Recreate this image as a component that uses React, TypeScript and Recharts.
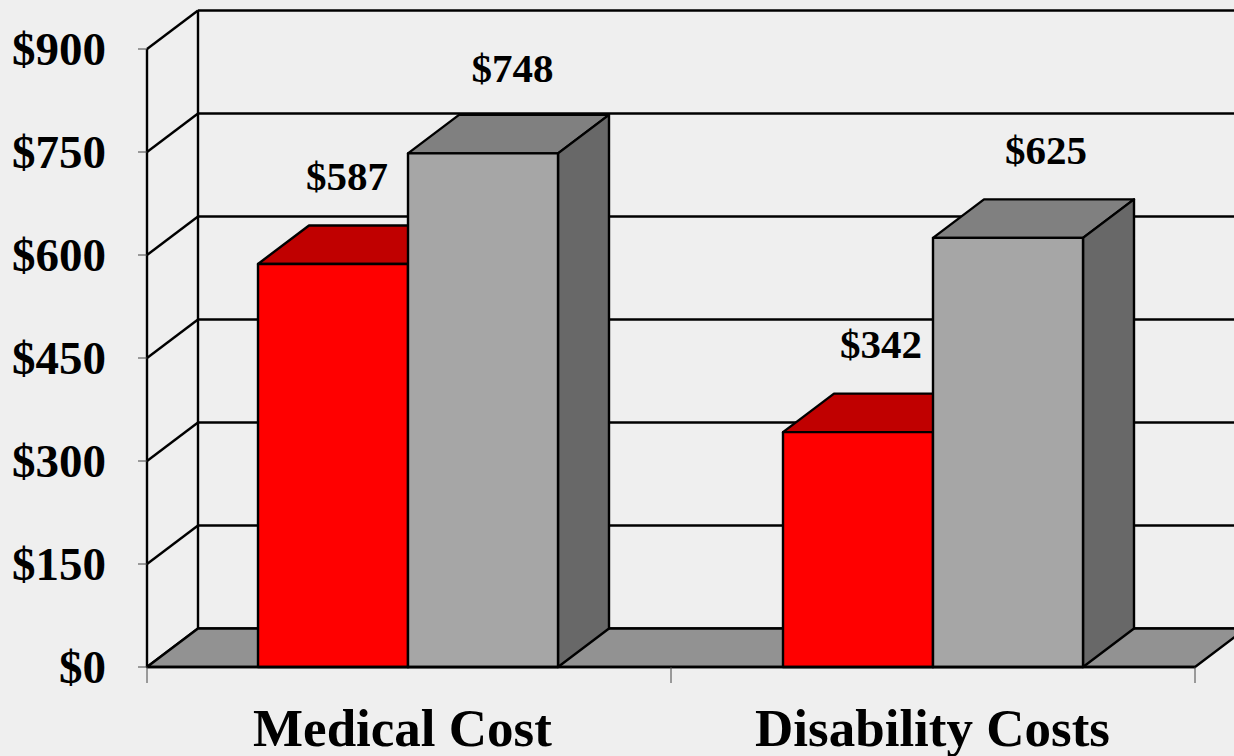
import { BarChart, Bar, XAxis, YAxis, CartesianGrid, ReferenceArea, LabelList } from 'recharts';

const categories = ['Medical Cost', 'Disability Costs'];
const redValues = [587, 342];
const greyValues = [748, 625];
const yTicks = [0, 150, 300, 450, 600, 750, 900];

const rows = categories.map((name, i) => ({ name, red: redValues[i], grey: greyValues[i] }));

// the 3D look: how far the back wall sits from the front plane
const DX = 51;
const DY = -38.5;
const LINE = 2.4;
const SERIF = '"Liberation Serif", serif';
const BG = '#EFEFEF';

function GridLine({ x1, y1, x2 }: any) {
  return (
    <g>
      <line x1={x1} y1={y1} x2={x1 + DX} y2={y1 + DY} stroke="#000" strokeWidth={LINE} />
      <line x1={x1 + DX} y1={y1 + DY} x2={x2 + DX} y2={y1 + DY} stroke="#000" strokeWidth={LINE} />
    </g>
  );
}

function WallAndFloor({ x, y, width, height }: any) {
  const bottom = y + height;
  const right = x + width;
  const pts = `${x},${bottom} ${x + DX},${bottom + DY} ${right + DX},${bottom + DY} ${right},${bottom}`;
  return (
    <g>
      <polygon points={pts} fill="#929292" stroke="#000" strokeWidth={LINE} strokeLinejoin="round" />
      <line x1={x + DX} y1={y + DY} x2={x + DX} y2={bottom + DY} stroke="#000" strokeWidth={LINE} />
    </g>
  );
}

function box(front: string, top: string, side: string) {
  return function Box({ x, y, width, height, index }: any) {
    const x0 = index === 0 ? x - 1 : x;
    const x1 = x0 + width;
    const y1 = y + height;
    const common = { stroke: '#000', strokeWidth: LINE, strokeLinejoin: 'round' as const };
    return (
      <g>
        <polygon points={`${x0},${y} ${x0 + DX},${y + DY} ${x1 + DX},${y + DY} ${x1},${y}`} fill={top} {...common} />
        <polygon points={`${x1},${y} ${x1 + DX},${y + DY} ${x1 + DX},${y1 + DY} ${x1},${y1}`} fill={side} {...common} />
        <rect x={x0} y={y} width={width} height={height} fill={front} {...common} />
      </g>
    );
  };
}

function valueLabel(shiftsX: number[], shiftsY: number[]) {
  return function ValueLabel({ x, y, width, value, index }: any) {
    return (
      <text x={x + width / 2 + shiftsX[index]} y={y + shiftsY[index]} textAnchor="middle" fontFamily={SERIF} fontWeight="bold" fontSize={41} fill="#000">
        {'$' + value}
      </text>
    );
  };
}

function CategoryTick({ x, payload, index }: any) {
  const half = 262;
  const shifts = [-6.5, -0.5];
  return (
    <g>
      <line x1={x - half} y1={667} x2={x - half} y2={683} stroke="#444" strokeWidth={1} />
      {index === categories.length - 1 && <line x1={x + half} y1={667} x2={x + half} y2={683} stroke="#444" strokeWidth={1} />}
      <text x={x + shifts[index]} y={746} textAnchor="middle" fontFamily={SERIF} fontWeight="bold" fontSize={53} fill="#000">
        {payload.value}
      </text>
    </g>
  );
}

export default function App() {
  return (
    <div style={{ position: 'absolute', left: 0, top: 0, width: 1234, height: 756, background: BG, overflow: 'hidden' }}>
      <BarChart
        width={1234}
        height={756}
        data={rows}
        margin={{ top: 49, right: 39, bottom: 0, left: 0 }}
        barSize={150}
        barGap={0}
      >
        <ReferenceArea y1={0} y2={900} shape={WallAndFloor} />
        <CartesianGrid horizontal={(p: any) => <GridLine key={p.key} {...p} />} vertical={false} syncWithTicks />
        <XAxis dataKey="name" tick={CategoryTick} tickLine={false} axisLine={{ stroke: '#000', strokeWidth: LINE }} interval={0} height={89} />
        <YAxis
          domain={[0, 900]}
          ticks={yTicks}
          interval={0}
          width={147}
          tickSize={9}
          tickMargin={32}
          tickLine={{ stroke: '#444', strokeWidth: 1 }}
          axisLine={{ stroke: '#000', strokeWidth: LINE }}
          tickFormatter={(v: number) => '$' + v}
          tick={{ fontFamily: SERIF, fontWeight: 'bold', fontSize: 47, fill: '#000', dy: -1 }}
        />
        <Bar dataKey="red" shape={box('#FF0000', '#C00000', '#800000')} isAnimationActive={false}>
          <LabelList dataKey="red" content={valueLabel([13, 23], [-74, -74])} />
        </Bar>
        <Bar dataKey="grey" shape={box('#A6A6A6', '#808080', '#686868')} isAnimationActive={false}>
          <LabelList dataKey="grey" content={valueLabel([28.5, 38], [-71, -74])} />
        </Bar>
      </BarChart>
    </div>
  );
}
